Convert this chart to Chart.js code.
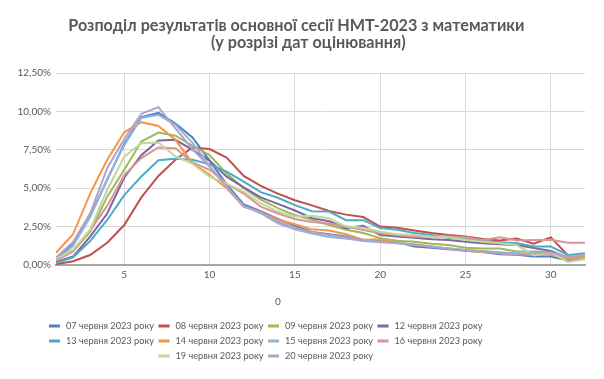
<!DOCTYPE html>
<html><head><meta charset="utf-8">
<script src="https://cdn.jsdelivr.net/npm/chart.js@4"></script>
<style>html,body{margin:0;padding:0;background:#fff}#wrap{width:604px;height:379px}</style>
</head><body><div id="wrap"><canvas id="c" width="604" height="379"></canvas></div>
<script>
const titleLines = ['  Розподіл результатів основної сесії НМТ-2023 з математики', '        (у розрізі дат оцінювання)'];
const axisTitle = '0';
const scores = [1,2,3,4,5,6,7,8,9,10,11,12,13,14,15,16,17,18,19,20,21,22,23,24,25,26,27,28,29,30,31,32];
const dates = ['07 червня 2023 року','08 червня 2023 року','09 червня 2023 року','12 червня 2023 року','13 червня 2023 року','14 червня 2023 року','15 червня 2023 року','16 червня 2023 року','19 червня 2023 року','20 червня 2023 року'];
const xTicks = [5,10,15,20,25,30];
const yTicks = [0,2.5,5,7.5,10,12.5];
const yTickLabels = ['0,00%','2,50%','5,00%','7,50%','10,00%','12,50%'];

const s07 = [0.35,1.35,3.2,5.55,7.9,9.63,9.9,9.2,8.3,6.8,5.25,3.95,3.5,3.0,2.55,2.15,2.0,1.85,1.62,1.55,1.5,1.2,1.12,1.02,0.92,0.85,0.7,0.66,0.55,0.55,0.3,0.48];
const s08 = [0.05,0.25,0.65,1.45,2.6,4.4,5.8,6.85,7.65,7.55,7.0,5.8,5.15,4.65,4.22,3.88,3.52,3.28,3.12,2.5,2.43,2.25,2.08,1.95,1.85,1.7,1.6,1.72,1.38,1.8,0.62,0.68];
const s09 = [0.3,0.9,2.15,4.45,6.2,8.04,8.62,8.42,7.75,7.15,5.95,5.0,4.25,3.7,3.25,2.95,2.6,2.3,2.08,1.75,1.58,1.52,1.38,1.3,1.12,1.08,1.08,0.88,0.88,0.87,0.38,0.48];
const s12 = [0.2,0.55,1.85,3.35,5.7,7.15,8.1,8.15,7.5,6.8,5.75,5.05,4.4,3.98,3.55,3.05,2.85,2.4,2.55,1.95,1.85,1.78,1.67,1.62,1.52,1.42,1.35,1.3,1.1,0.92,0.48,0.62];
const s13 = [0.12,0.5,1.55,2.93,4.55,5.76,6.82,6.92,6.85,6.55,6.08,5.43,4.74,4.38,3.9,3.5,3.48,2.92,2.92,2.4,2.3,2.08,1.95,1.75,1.7,1.56,1.48,1.42,1.2,1.2,0.65,0.76];
const s14 = [0.8,2.0,4.65,6.85,8.64,9.3,9.05,8.15,6.63,5.87,5.0,3.8,3.45,2.95,2.65,2.32,2.25,2.0,1.65,1.67,1.42,1.35,1.2,1.08,0.92,0.84,0.76,0.7,0.65,0.65,0.43,0.54];
const s15 = [0.3,1.25,3.1,5.6,7.8,9.57,9.78,9.13,7.95,6.45,5.1,3.85,3.37,2.72,2.33,2.05,1.82,1.72,1.56,1.48,1.42,1.3,1.2,1.08,0.98,0.91,0.83,0.76,0.7,0.76,0.52,0.68];
const s16 = [0.28,0.88,2.25,3.85,5.85,6.96,7.65,7.6,6.68,6.2,5.3,4.65,3.8,3.35,3.0,2.8,2.7,2.5,2.28,2.06,1.95,1.84,1.85,1.85,1.8,1.62,1.8,1.6,1.62,1.65,1.45,1.45];
const s19 = [0.4,1.0,2.3,4.9,7.05,7.93,7.98,7.07,6.59,5.75,5.3,4.78,4.02,3.48,3.15,3.2,3.04,2.5,2.43,2.17,2.0,1.95,1.84,1.8,1.63,1.52,1.41,1.3,0.62,0.8,0.2,0.37];
const s20 = [0.48,1.5,3.35,6.3,8.2,9.85,10.28,8.9,7.54,6.4,5.1,3.8,3.45,2.83,2.43,2.13,1.95,1.8,1.65,1.52,1.48,1.3,1.18,1.08,0.98,0.88,0.77,0.7,0.77,0.83,0.54,0.65];
const seriesValues = [s07,s08,s09,s12,s13,s14,s15,s16,s19,s20];
const colors = ['#4F81BD','#C0504D','#9BBB59','#8064A2','#4BACC6','#F79646','#95B3D7','#D99694','#C3D69B','#B3A2C7'];

const TEXT = '#595959';
const FONT = 'Lato';

const datasets = seriesValues.map((vals, i) => ({
  label: dates[i],
  data: vals.map((v, j) => ({x: scores[j], y: v})),
  borderColor: colors[i],
  backgroundColor: colors[i],
  borderWidth: 2,
  pointRadius: 0,
  tension: 0,
  fill: false,
  order: seriesValues.length - i
}));

const legendPlugin = {
  id: 'customLegend',
  afterDraw(chart) {
    const ctx = chart.ctx;
    ctx.save();
    ctx.font = '10px ' + FONT;
    ctx.fillStyle = TEXT;
    ctx.textBaseline = 'middle';
    ctx.textAlign = 'center';
    ctx.fillText(axisTitle, 278, 302);
    ctx.font = '9.2px ' + FONT;
    ctx.textAlign = 'left';
    const ds = chart.data.datasets;
    const perRow = 4, pitch = 109.5, left0 = 49, top0 = 326, rowH = 15;
    ds.forEach((d, i) => {
      const r = Math.floor(i / perRow), k = i % perRow;
      const n = Math.min(perRow, ds.length - r * perRow);
      const x = left0 + (perRow - n) * pitch / 2 + k * pitch;
      const y = top0 + r * rowH;
      ctx.fillStyle = d.borderColor;
      ctx.fillRect(x, y - 1.5, 11, 3);
      ctx.fillStyle = TEXT;
      ctx.fillText(d.label, x + 17, y);
    });
    ctx.restore();
  }
};

new Chart(document.getElementById('c'), {
  type: 'line',
  data: { datasets },
  plugins: [legendPlugin],
  options: {
    responsive: false,
    animation: false,
    devicePixelRatio: 1,
    layout: { padding: { top: 0, left: 0, right: 19, bottom: 0 } },
    plugins: {
      legend: { display: false },
      tooltip: { enabled: false },
      title: {
        display: true,
        text: titleLines,
        color: TEXT,
        font: { family: FONT, size: 16.2, weight: 'bold', lineHeight: 1.0 },
        padding: { top: 18, bottom: 22.6 }
      }
    },
    scales: {
      x: {
        type: 'linear',
        min: 1, max: 32,
        afterBuildTicks: s => { s.ticks = xTicks.map(v => ({ value: v })); },
        afterFit: s => { s.height = 114; },
        grid: { color: '#d9d9d9', lineWidth: 1, drawTicks: false },
        border: { color: '#a6a6a6', width: 2 },
        ticks: { color: TEXT, font: { family: FONT, size: 10 }, padding: 4, maxRotation: 0, autoSkip: false }
      },
      y: {
        min: 0, max: 12.5,
        afterBuildTicks: s => { s.ticks = yTicks.map(v => ({ value: v })); },
        afterFit: s => { s.width = 56; },
        grid: { color: '#d9d9d9', lineWidth: 1, drawTicks: false },
        border: { display: false },
        ticks: {
          color: TEXT, font: { family: FONT, size: 10 }, padding: 5,
          callback: (v) => yTickLabels[yTicks.indexOf(v)]
        }
      }
    }
  }
});
</script></body></html>
